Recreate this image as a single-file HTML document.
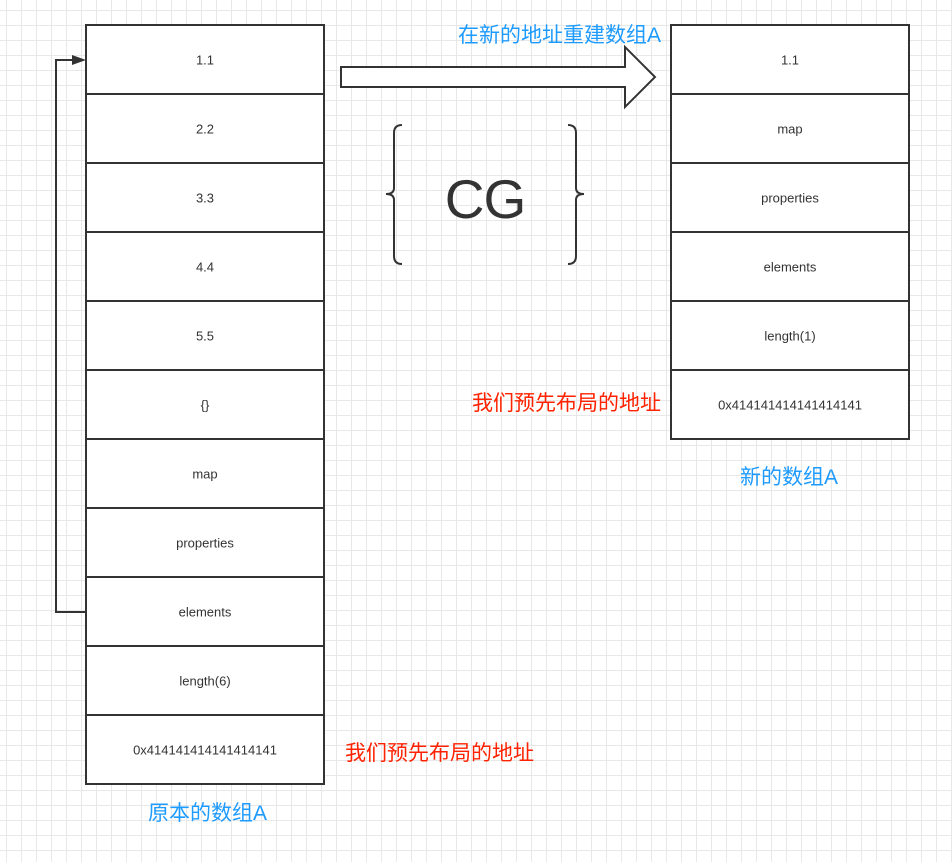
<!DOCTYPE html>
<html><head><meta charset="utf-8"><style>
html,body{margin:0;padding:0;background:#fff}
svg{display:block}
.c{font-family:"Liberation Sans",sans-serif;font-size:13px;fill:#333;text-anchor:middle;dominant-baseline:central}
.b{font-family:"Liberation Sans","Noto Sans CJK SC",sans-serif;font-size:21px;fill:#1e9bff}
.r{font-family:"Liberation Sans","Noto Sans CJK SC",sans-serif;font-size:21px;fill:#ff2200}
</style></head><body>
<svg width="952" height="862" xmlns="http://www.w3.org/2000/svg">
<defs><pattern id="g" x="6" y="10" width="15" height="15" patternUnits="userSpaceOnUse"><path d="M0 0.5H15M0.5 0V15" stroke="#e8e8e8" stroke-width="1" fill="none"/></pattern></defs>
<rect width="952" height="862" fill="url(#g)"/>
<g stroke="#333" stroke-width="2" fill="#fff">
<rect x="86" y="25" width="238" height="759"/>
<rect x="671" y="25" width="238" height="414"/>
</g>
<g stroke="#333" stroke-width="2">
<path d="M86 94H324M86 163H324M86 232H324M86 301H324M86 370H324M86 439H324M86 508H324M86 577H324M86 646H324M86 715H324"/>
<path d="M671 94H909M671 163H909M671 232H909M671 301H909M671 370H909"/>
</g>
<g class="c">
<text x="205" y="60">1.1</text><text x="205" y="129">2.2</text><text x="205" y="198">3.3</text><text x="205" y="267">4.4</text><text x="205" y="336">5.5</text><text x="205" y="405">{}</text><text x="205" y="474">map</text><text x="205" y="543">properties</text><text x="205" y="612">elements</text><text x="205" y="681">length(6)</text><text x="205" y="750">0x414141414141414141</text>
<text x="790" y="60">1.1</text><text x="790" y="129">map</text><text x="790" y="198">properties</text><text x="790" y="267">elements</text><text x="790" y="336">length(1)</text><text x="790" y="405">0x414141414141414141</text>
</g>
<path d="M86 612H56V60H74" stroke="#333" stroke-width="2" fill="none"/>
<path d="M86 60L72 55V65Z" fill="#333"/>
<path d="M341 67H625V47L655 77L625 107V87H341Z" fill="#fff" stroke="#333" stroke-width="2"/>
<g stroke="#333" stroke-width="2" fill="none">
<path d="M402 125Q394 125 394 133V188Q394 194 386 194Q394 194 394 200V256Q394 264 402 264"/>
<path d="M568 125Q576 125 576 133V188Q576 194 584 194Q576 194 576 200V256Q576 264 568 264"/>
</g>
<text x="485" y="218" font-family="Liberation Sans,sans-serif" font-size="55" letter-spacing="-1" fill="#333" text-anchor="middle">CG</text>
<text class="b" x="458" y="42">在新的地址重建数组A</text>
<text class="b" x="740" y="484">新的数组A</text>
<text class="b" x="148" y="820">原本的数组A</text>
<text class="r" x="472" y="410">我们预先布局的地址</text>
<text class="r" x="345" y="760">我们预先布局的地址</text>
</svg>
</body></html>
